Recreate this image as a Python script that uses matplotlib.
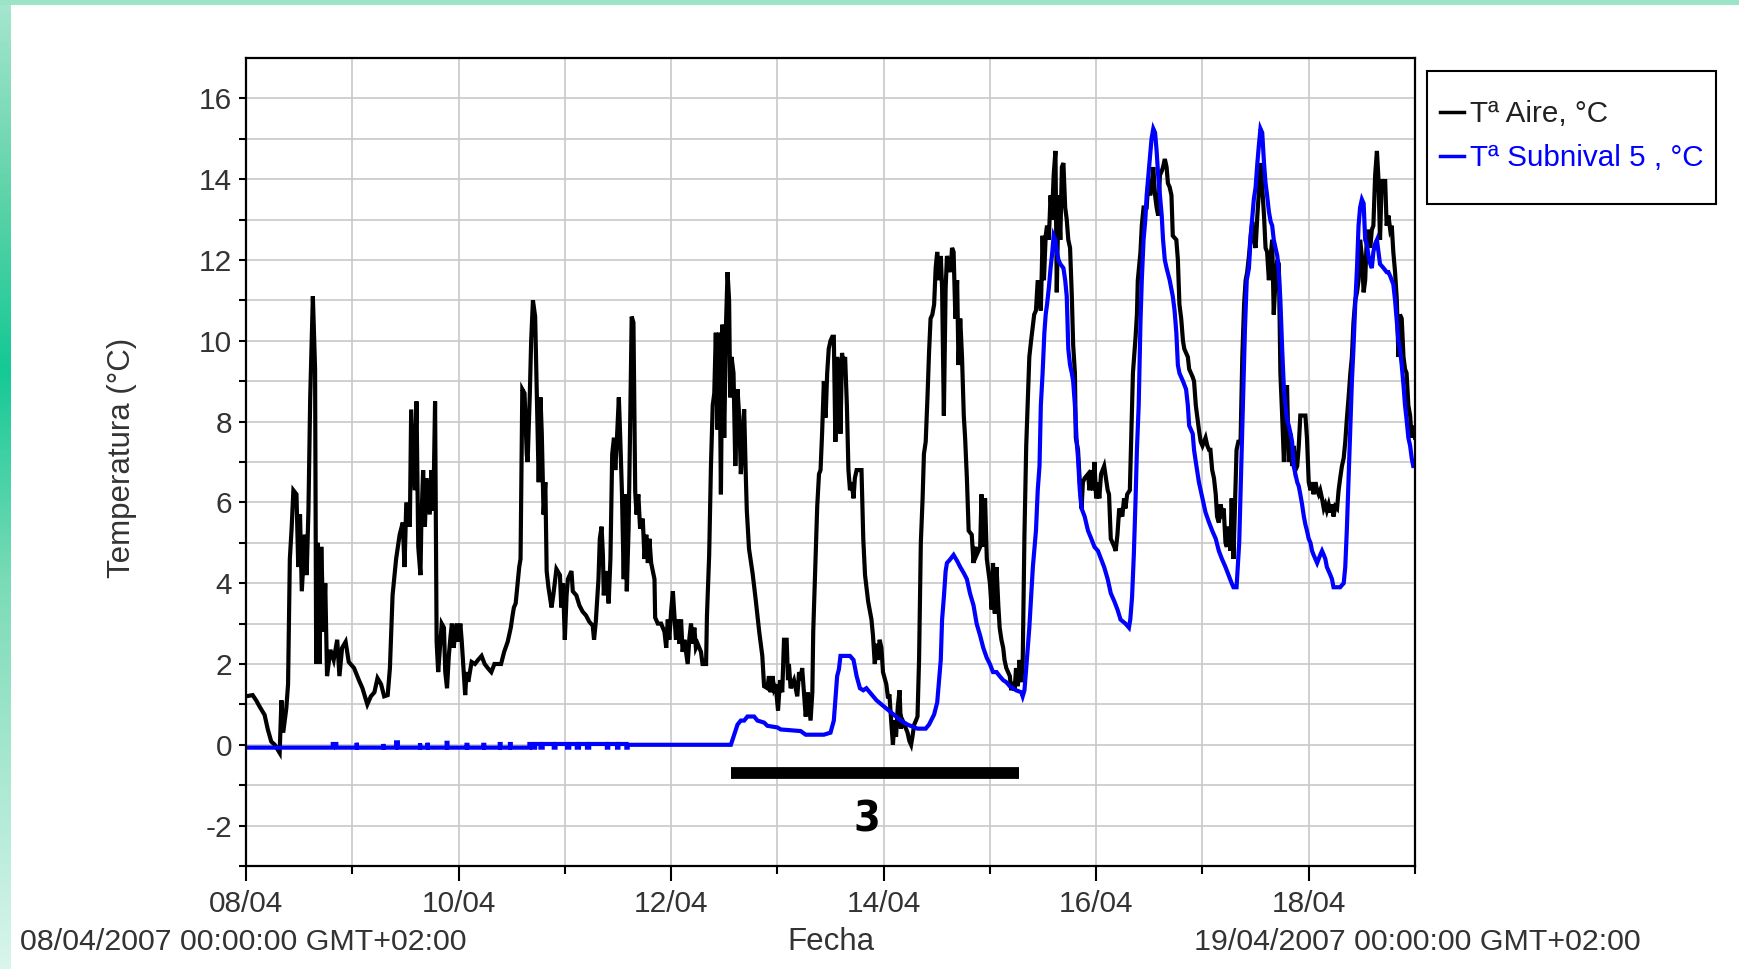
import matplotlib
matplotlib.use("Agg")
import matplotlib.pyplot as plt
import matplotlib.dates as mdates
import numpy as np
from datetime import datetime, timedelta
from matplotlib.patches import Rectangle
from matplotlib.colors import LinearSegmentedColormap

plt.rcParams['font.family'] = ['Liberation Sans', 'DejaVu Sans']
plt.rcParams['axes.unicode_minus'] = False

start = datetime(2007, 4, 8)
end = datetime(2007, 4, 19)

# (horas desde 08/04 00:00, temperatura °C)
aire = [
    (0, 1.2), (1.5, 1.23), (2.3, 1.1), (3.05, 0.95), (4.2, 0.74), (4.95, 0.37), (5.7, 0.08), (6.5, 0.0),
    (7.6, -0.2), (8.0, 1.1), (8.4, 0.3), (9.1, 0.9), (9.5, 1.5), (9.9, 4.6), (10.3, 5.35), (10.7, 6.3),
    (11.4, 6.2), (11.8, 4.4), (12.2, 5.7), (12.6, 3.8), (13.3, 5.2), (13.7, 4.2), (14.1, 5.8), (14.5, 8.6),
    (15.1, 11.1), (15.6, 9.3), (15.85, 2.0), (16.2, 5.0), (16.6, 2.0), (17.0, 4.9), (17.5, 2.8), (17.9, 4.0),
    (18.3, 1.7), (19.05, 2.35), (19.8, 2.1), (20.6, 2.6), (21.1, 1.7), (21.7, 2.4), (22.5, 2.55), (23.2, 2.05),
    (24.4, 1.9), (25.5, 1.6), (26.3, 1.4), (27.4, 1.0), (28.2, 1.2), (29.0, 1.3), (29.7, 1.65), (30.5, 1.5),
    (31.2, 1.2), (32.0, 1.23), (32.5, 1.9), (33.1, 3.7), (33.9, 4.6), (34.7, 5.2), (35.4, 5.5), (35.8, 4.4),
    (36.2, 6.0), (37.0, 5.4), (37.3, 8.3), (38.1, 6.3), (38.5, 8.5), (38.9, 4.9), (39.4, 4.2), (39.6, 5.5),
    (40.0, 6.8), (40.4, 5.4), (40.8, 6.6), (41.5, 5.7), (41.9, 6.8), (42.3, 5.8), (42.7, 8.5), (43.05, 2.55),
    (43.4, 1.8), (44.2, 3.0), (44.7, 2.9), (45.0, 1.8), (45.4, 1.4), (45.8, 2.2), (46.2, 2.7), (46.5, 3.0),
    (46.9, 2.4), (47.3, 2.8), (47.6, 3.0), (48.0, 2.55), (48.4, 3.0), (48.7, 2.6), (49.1, 1.9), (49.5, 1.23),
    (49.8, 1.8), (50.2, 1.56), (50.95, 2.05), (51.7, 2.0), (52.4, 2.1), (53.2, 2.2), (53.9, 2.0), (54.6, 1.9),
    (55.4, 1.8), (56.1, 2.0), (57.6, 2.0), (58.3, 2.3), (59.1, 2.55), (59.8, 2.9), (60.2, 3.2), (60.5, 3.4),
    (60.9, 3.5), (61.3, 3.95), (61.7, 4.4), (62.0, 4.6), (62.4, 8.8), (62.9, 8.7), (63.4, 7.2), (63.6, 7.0),
    (64.1, 8.7), (64.4, 10.0), (64.8, 11.0), (65.3, 10.6), (65.7, 8.6), (66.1, 6.5), (66.5, 8.6), (66.8, 7.7),
    (67.2, 5.7), (67.6, 6.5), (67.9, 4.3), (68.3, 3.9), (69.0, 3.4), (69.4, 3.7), (70.1, 4.35), (70.9, 4.2),
    (71.2, 3.4), (71.6, 4.0), (72.0, 2.6), (72.4, 3.7), (72.7, 4.1), (73.5, 4.3), (73.8, 3.8), (74.6, 3.7),
    (75.3, 3.45), (76.0, 3.3), (76.8, 3.2), (77.5, 3.05), (78.3, 2.95), (78.6, 2.6), (79.0, 3.05), (79.6, 4.1),
    (79.9, 5.1), (80.3, 5.4), (80.6, 4.7), (80.8, 3.7), (81.2, 4.3), (81.6, 3.95), (81.9, 3.5), (82.3, 4.6),
    (82.7, 7.2), (83.1, 7.6), (83.4, 6.8), (83.8, 7.65), (84.2, 8.6), (84.5, 7.65), (84.9, 6.25), (85.3, 4.1),
    (85.6, 6.2), (86.0, 3.8), (86.4, 5.35), (86.7, 7.5), (87.1, 10.6), (87.5, 10.45), (87.9, 6.25), (88.2, 5.7),
    (88.6, 6.2), (89.0, 5.35), (89.6, 5.6), (90.0, 4.6), (90.4, 5.2), (90.75, 4.5), (91.1, 5.1), (91.5, 4.5),
    (92.25, 4.1), (92.4, 3.15), (93.0, 3.0), (93.75, 3.0), (94.5, 2.8), (94.9, 2.4), (95.25, 3.1), (95.6, 2.6),
    (96.0, 3.3), (96.4, 3.8), (96.75, 3.2), (97.1, 2.6), (97.5, 3.1), (97.9, 2.5), (98.25, 3.1), (98.6, 2.3),
    (99.0, 2.6), (99.75, 2.0), (100.1, 2.6), (100.5, 3.0), (100.9, 2.5), (101.25, 2.9), (101.6, 2.4), (102.0, 2.5),
    (102.75, 2.3), (103.1, 2.0), (103.9, 2.0), (104.1, 3.2), (104.6, 4.7), (105.0, 6.9), (105.4, 8.4), (105.75, 8.7),
    (106.1, 10.2), (106.5, 7.8), (106.9, 10.2), (107.25, 6.2), (107.6, 10.4), (108.0, 7.6), (108.4, 10.4),
    (108.75, 11.7), (109.1, 11.0), (109.35, 8.6), (109.65, 9.6), (110.1, 9.2), (110.5, 6.9), (111.0, 8.8),
    (111.4, 8.1), (111.75, 6.7), (112.1, 7.4), (112.5, 8.3), (112.9, 6.55), (113.1, 5.8), (113.6, 4.85),
    (114.4, 4.25), (115.1, 3.6), (115.9, 2.8), (116.6, 2.2), (117.0, 1.45), (117.75, 1.4), (118.1, 1.7),
    (118.5, 1.3), (118.9, 1.7), (119.25, 1.4), (119.6, 1.5), (120.15, 0.85), (120.6, 1.6), (121.1, 1.3),
    (121.5, 2.6), (122.1, 2.6), (122.4, 1.6), (122.6, 2.0), (123.0, 1.4), (123.75, 1.6), (124.5, 1.2),
    (124.9, 1.8), (125.25, 1.6), (125.6, 1.9), (126.0, 1.3), (126.4, 0.7), (126.9, 1.3), (127.5, 0.6),
    (127.9, 1.3), (128.1, 2.8), (128.6, 4.5), (129.0, 5.9), (129.4, 6.7), (129.75, 6.8), (130.1, 7.7),
    (130.5, 9.0), (130.9, 8.1), (131.25, 9.2), (131.6, 9.8), (132.0, 10.0), (132.4, 10.1), (132.75, 10.1),
    (133.1, 7.5), (133.5, 9.6), (133.9, 9.3), (134.25, 7.7), (134.6, 9.7), (134.9, 9.4), (135.3, 9.6),
    (135.7, 8.4), (136.05, 6.8), (136.4, 6.3), (136.8, 6.5), (137.2, 6.1), (137.5, 6.6), (137.9, 6.8),
    (138.65, 6.8), (139.0, 6.8), (139.4, 5.1), (139.8, 4.2), (140.5, 3.55), (141.25, 3.1), (141.6, 2.7),
    (142.0, 2.0), (142.4, 2.5), (142.7, 2.1), (143.1, 2.6), (143.5, 2.4), (143.85, 1.8), (144.6, 1.5),
    (145.0, 1.15), (145.3, 1.25), (145.7, 0.6), (146.1, 0.0), (146.45, 0.6), (146.8, 0.2), (147.2, 0.95),
    (147.6, 1.35), (147.9, 0.4), (148.3, 0.6), (148.7, 0.5), (149.4, 0.3), (149.8, 0.1), (150.2, 0.0),
    (150.5, 0.2), (150.9, 0.5), (151.3, 0.6), (151.65, 0.7), (152.0, 2.1), (152.4, 5.0), (152.8, 6.1),
    (153.1, 7.2), (153.5, 7.5), (153.9, 8.6), (154.25, 9.7), (154.6, 10.55), (155.0, 10.65), (155.4, 10.9),
    (155.75, 11.8), (156.1, 12.2), (156.5, 11.5), (156.9, 12.1), (157.2, 11.3), (157.6, 8.15), (158.0, 11.3),
    (158.3, 12.1), (159.1, 11.7), (159.45, 12.3), (159.8, 12.2), (160.2, 10.55), (160.6, 11.5), (160.9, 9.4),
    (161.3, 10.55), (161.7, 9.6), (162.1, 8.15), (162.4, 7.6), (162.8, 6.6), (163.2, 5.3), (163.9, 5.2),
    (164.3, 4.5), (164.7, 4.9), (165.0, 4.7), (165.8, 4.9), (166.1, 6.2), (166.5, 4.9), (166.9, 6.1),
    (167.3, 4.6), (168.0, 4.0), (168.4, 3.35), (168.7, 4.5), (169.1, 3.25), (169.5, 4.4), (169.9, 3.45),
    (170.2, 2.9), (170.6, 2.6), (171.0, 2.4), (171.3, 2.1), (171.7, 1.9), (172.5, 1.7), (172.8, 1.35),
    (173.2, 1.55), (173.6, 1.35), (173.9, 1.9), (174.3, 1.45), (174.7, 2.1), (175.1, 1.55), (175.4, 2.0),
    (175.8, 5.2), (176.2, 7.4), (176.9, 9.6), (177.3, 10.0), (178.0, 10.65), (178.4, 10.75), (178.8, 11.5),
    (179.5, 10.75), (179.9, 12.6), (180.2, 11.5), (180.6, 12.6), (180.9, 12.85), (181.3, 12.5), (181.7, 13.6),
    (182.0, 13.0), (182.4, 14.1), (182.8, 14.7), (183.1, 11.2), (183.5, 13.6), (183.9, 12.5), (184.25, 14.3),
    (184.6, 14.4), (185.0, 13.3), (185.35, 13.0), (185.7, 12.5), (186.1, 12.3), (186.5, 11.1), (186.8, 9.9),
    (187.2, 9.2), (187.4, 7.6), (187.9, 7.3), (188.3, 6.5), (188.7, 5.85), (189.0, 6.5), (189.4, 6.6),
    (190.15, 6.7), (190.5, 6.3), (190.9, 6.8), (191.3, 6.3), (191.6, 7.0), (192.0, 6.1), (192.4, 6.5),
    (192.7, 6.1), (193.1, 6.7), (193.8, 6.9), (194.2, 6.6), (194.6, 6.3), (194.9, 6.2), (195.3, 5.1),
    (196.1, 4.9), (196.4, 4.8), (196.8, 5.2), (197.2, 5.85), (197.9, 5.65), (198.3, 6.1), (198.6, 5.85),
    (199.0, 6.2), (199.6, 6.3), (199.9, 7.5), (200.3, 9.2), (200.9, 10.1), (201.2, 10.65), (201.4, 11.5),
    (202.0, 12.2), (202.3, 12.85), (202.7, 13.3), (203.4, 13.3), (203.8, 14.0), (204.2, 13.6), (204.5, 13.8),
    (204.9, 14.3), (205.3, 13.6), (205.65, 13.3), (206.0, 13.1), (206.4, 14.1), (206.8, 14.2), (207.1, 14.3),
    (207.5, 14.5), (207.9, 14.3), (208.2, 13.9), (208.6, 13.8), (209.0, 13.6), (209.3, 12.6), (210.1, 12.5),
    (210.45, 12.0), (210.8, 10.9), (211.2, 10.55), (211.6, 10.0), (211.9, 9.8), (212.3, 9.7), (212.7, 9.6),
    (213.0, 9.3), (213.8, 9.1), (214.1, 9.0), (214.5, 8.4), (215.2, 7.8), (215.6, 7.5), (216.0, 7.4),
    (216.7, 7.6), (217.1, 7.4), (217.5, 7.3), (217.8, 7.3), (218.2, 6.8), (218.6, 6.6), (219.0, 6.2),
    (219.3, 5.65), (219.7, 5.5), (220.1, 5.95), (220.4, 5.75), (220.8, 5.85), (221.2, 5.0), (221.5, 4.9),
    (221.9, 5.4), (222.3, 4.8), (222.6, 6.1), (223.0, 4.6), (223.4, 6.1), (223.7, 7.3), (224.1, 7.5),
    (224.6, 7.5), (225.0, 9.6), (225.4, 10.9), (225.75, 11.5), (226.1, 11.7), (226.5, 12.1), (226.9, 12.6),
    (227.25, 12.95), (227.6, 12.5), (228.0, 12.3), (228.4, 13.1), (228.75, 13.7), (229.1, 14.4), (229.5, 13.8),
    (229.9, 13.1), (230.25, 12.3), (230.6, 12.2), (231.0, 11.5), (231.4, 12.1), (231.75, 12.5), (232.1, 10.65),
    (232.5, 11.5), (232.9, 12.0), (233.25, 11.9), (233.6, 9.2), (234.0, 8.15), (234.4, 7.0), (234.75, 8.4),
    (235.1, 8.9), (235.5, 7.0), (235.9, 7.7), (236.25, 6.9), (236.6, 7.4), (237.0, 6.8), (237.4, 6.9),
    (237.75, 7.4), (238.1, 8.15), (238.9, 8.15), (239.25, 8.15), (239.6, 7.6), (240.0, 6.5), (240.4, 6.3),
    (240.75, 6.5), (241.1, 6.2), (241.5, 6.5), (241.9, 6.3), (242.25, 6.2), (242.6, 6.3), (243.0, 6.1),
    (243.4, 5.85), (243.75, 5.95), (244.1, 5.8), (244.5, 5.95), (244.9, 5.75), (245.25, 5.95), (245.6, 5.65),
    (246.0, 5.9), (246.4, 5.85), (246.75, 6.3), (247.1, 6.6), (247.5, 6.9), (247.9, 7.1), (248.25, 7.5),
    (248.6, 8.05), (249.0, 8.6), (249.4, 9.2), (249.75, 9.6), (250.1, 10.45), (250.5, 11.0), (250.9, 11.2),
    (251.25, 11.5), (251.6, 12.5), (252.0, 12.1), (252.4, 11.2), (252.75, 11.5), (253.1, 12.5), (253.5, 12.75),
    (253.9, 12.3), (254.25, 12.75), (254.6, 12.85), (255.0, 14.1), (255.4, 14.7), (255.75, 14.0), (256.1, 12.5),
    (256.5, 14.0), (256.9, 13.7), (257.25, 14.0), (257.6, 12.85), (258.0, 13.1), (258.4, 12.75), (258.75, 12.85),
    (259.1, 12.2), (259.5, 11.7), (259.9, 11.0), (260.25, 9.6), (260.6, 10.65), (261.0, 10.55), (261.4, 9.6),
    (261.75, 9.3), (262.1, 9.2), (262.5, 8.4), (262.9, 8.15), (263.25, 7.6), (263.6, 7.9), (264.0, 7.6),
]

subnival = [
    (0, -0.07), (19.6, -0.07), (19.6, 0.02), (20.4, 0.02), (20.4, -0.07), (25.0, -0.07), (25.0, 0.05),
    (25.1, -0.07), (31.0, -0.07), (31.0, 0.02), (31.1, -0.07), (33.9, -0.07), (33.9, 0.06), (34.3, 0.06),
    (34.3, -0.07), (39.3, -0.07), (39.3, 0.04), (39.4, -0.07), (41.0, -0.07), (41.0, 0.05), (41.1, -0.07),
    (45.3, -0.07), (45.3, 0.05), (45.5, 0.05), (45.5, -0.07), (49.8, -0.07), (49.8, 0.0), (50.0, 0.0),
    (50.0, -0.07), (53.6, -0.07), (53.6, 0.0), (53.8, 0.0), (53.8, -0.07), (57.3, -0.07), (57.3, 0.02),
    (57.5, 0.02), (57.5, -0.07), (59.6, -0.07), (59.6, 0.02), (59.8, 0.02), (59.8, -0.07), (64.0, -0.07),
    (64.0, 0.02), (64.6, 0.02), (64.6, -0.07), (65.3, -0.07), (65.3, 0.02), (66.5, 0.02), (66.5, -0.07),
    (67.0, -0.07), (67.0, 0.02), (69.5, 0.02), (69.5, -0.07), (69.9, -0.07), (69.9, 0.02), (72.5, 0.02),
    (72.5, -0.07), (73.0, -0.07), (73.0, 0.02), (74.7, 0.02), (74.7, -0.07), (75.2, -0.07), (75.2, 0.02),
    (77.0, 0.02), (77.0, -0.07), (77.5, -0.07), (77.5, 0.02), (81.5, 0.02), (81.5, -0.07), (81.8, -0.07),
    (81.8, 0.02), (83.8, 0.02), (83.8, -0.07), (84.1, -0.07), (84.1, 0.02), (85.9, 0.02), (85.9, -0.07),
    (86.2, -0.07), (86.2, 0.0), (109.5, 0.0), (110.25, 0.25), (111.0, 0.5), (111.75, 0.6),
    (112.5, 0.6), (113.25, 0.7), (114.75, 0.7), (115.5, 0.6), (117.0, 0.55), (117.75, 0.47), (120.0, 0.43),
    (120.75, 0.38), (125.25, 0.34), (126.4, 0.25), (130.5, 0.25), (132.0, 0.3), (132.75, 0.6), (133.1, 1.1),
    (133.5, 1.7), (133.9, 1.87), (134.25, 2.2), (135.3, 2.2), (136.4, 2.2), (137.2, 2.1), (137.9, 1.7),
    (138.65, 1.4), (139.4, 1.35), (140.1, 1.4), (141.25, 1.25), (142.4, 1.1), (143.5, 1.0), (144.6, 0.9),
    (145.7, 0.8), (146.8, 0.7), (147.9, 0.6), (149.4, 0.5), (150.5, 0.45), (151.65, 0.4), (153.5, 0.4),
    (154.25, 0.5), (155.4, 0.75), (156.1, 1.05), (156.9, 2.1), (157.2, 3.1), (157.6, 3.65), (158.0, 4.3),
    (158.3, 4.5), (159.1, 4.6), (159.8, 4.7), (160.6, 4.55), (161.3, 4.4), (162.1, 4.25), (162.8, 4.1),
    (163.5, 3.75), (164.3, 3.45), (165.0, 3.0), (165.8, 2.7), (166.5, 2.4), (167.3, 2.15), (168.0, 2.0),
    (168.7, 1.8), (169.5, 1.8), (170.2, 1.7), (171.0, 1.6), (171.7, 1.55), (172.5, 1.45), (173.2, 1.4),
    (173.9, 1.35), (175.1, 1.3), (175.4, 1.2), (175.8, 1.35), (176.2, 1.9), (176.9, 2.9), (177.3, 3.65),
    (177.7, 4.4), (178.4, 5.3), (178.8, 6.3), (179.2, 6.9), (179.5, 8.4), (179.9, 9.2), (180.3, 10.2),
    (180.6, 10.65), (180.9, 10.9), (181.3, 11.3), (181.7, 11.8), (182.0, 12.1), (182.4, 12.6), (182.8, 12.5),
    (183.1, 12.2), (183.5, 12.0), (183.9, 11.9), (184.6, 11.8), (185.0, 11.5), (185.35, 11.1), (185.7, 9.8),
    (186.1, 9.4), (186.5, 9.2), (186.8, 9.0), (187.2, 8.4), (187.6, 7.5), (187.9, 7.1), (188.3, 6.3),
    (188.7, 5.85), (189.4, 5.65), (190.15, 5.3), (190.9, 5.1), (191.6, 4.9), (192.4, 4.8), (193.1, 4.6),
    (193.8, 4.4), (194.6, 4.1), (195.3, 3.75), (196.1, 3.55), (196.8, 3.35), (197.5, 3.1), (198.6, 3.0),
    (199.4, 2.9), (199.7, 3.1), (200.1, 3.65), (200.5, 4.7), (200.9, 6.1), (201.2, 7.3), (201.6, 8.4),
    (202.0, 10.45), (202.3, 11.5), (202.7, 12.5), (203.1, 13.0), (203.4, 13.6), (203.8, 14.1), (204.2, 14.6),
    (204.5, 15.0), (204.9, 15.25), (205.3, 15.15), (205.65, 14.7), (206.0, 14.1), (206.4, 13.6), (206.8, 13.1),
    (207.1, 12.5), (207.5, 12.0), (207.9, 11.8), (208.6, 11.5), (209.3, 11.1), (209.7, 10.75), (210.1, 10.2),
    (210.45, 9.4), (210.8, 9.2), (211.6, 9.0), (212.3, 8.8), (212.7, 8.4), (213.0, 7.9), (213.8, 7.7),
    (214.1, 7.3), (214.5, 7.0), (215.2, 6.5), (216.0, 6.1), (216.7, 5.75), (217.5, 5.5), (218.2, 5.3),
    (219.0, 5.1), (219.7, 4.8), (220.4, 4.6), (221.2, 4.4), (221.9, 4.2), (222.6, 4.0), (223.0, 3.9),
    (223.7, 3.9), (224.3, 5.0), (224.8, 7.0), (225.2, 8.7), (225.6, 10.3), (226.0, 11.5), (226.5, 11.8),
    (226.9, 12.6), (227.6, 13.5), (228.0, 13.8), (228.4, 14.4), (228.75, 14.85), (229.1, 15.25), (229.5, 15.15),
    (229.9, 14.4), (230.25, 13.9), (230.6, 13.6), (231.0, 13.2), (231.4, 12.95), (231.75, 12.85), (232.1, 12.5),
    (232.5, 12.3), (232.9, 12.1), (233.25, 11.7), (233.6, 11.0), (234.0, 9.8), (234.4, 8.8), (234.75, 8.4),
    (235.1, 8.05), (235.5, 7.9), (235.9, 7.7), (236.25, 7.5), (236.6, 6.9), (237.0, 6.7), (237.4, 6.5),
    (237.75, 6.4), (238.1, 6.2), (238.5, 5.95), (238.9, 5.65), (239.25, 5.45), (239.6, 5.3), (240.0, 5.1),
    (240.4, 5.0), (240.75, 4.8), (241.1, 4.7), (241.5, 4.6), (241.9, 4.5), (242.25, 4.6), (242.6, 4.7),
    (243.0, 4.8), (243.4, 4.7), (243.75, 4.6), (244.1, 4.4), (244.5, 4.3), (244.9, 4.2), (245.25, 4.1),
    (245.6, 3.9), (246.4, 3.9), (247.1, 3.9), (247.9, 4.0), (248.25, 4.4), (248.6, 5.3), (249.0, 6.6),
    (249.4, 7.9), (249.75, 9.0), (250.1, 9.8), (250.5, 10.9), (250.9, 11.8), (251.25, 12.85), (251.6, 13.3),
    (252.0, 13.5), (252.4, 13.4), (252.75, 12.5), (253.1, 12.4), (253.5, 12.1), (253.9, 11.9), (254.25, 11.8),
    (254.6, 12.2), (255.0, 12.4), (255.4, 12.5), (255.75, 12.2), (256.1, 11.9), (256.9, 11.8), (257.6, 11.7),
    (258.0, 11.7), (258.4, 11.6), (258.75, 11.5), (259.1, 11.4), (259.5, 11.0), (259.9, 10.45), (260.25, 10.0),
    (260.6, 9.8), (261.0, 9.4), (261.4, 8.9), (261.75, 8.4), (262.1, 8.05), (262.5, 7.6), (262.9, 7.4),
    (263.25, 7.1), (263.6, 6.9), (264.0, 6.9),
]

series_labels = ['Tª Aire, °C', 'Tª Subnival 5 , °C']
series_colors = ['black', '#0000ff']

# periodo marcado (horas) y su etiqueta
periodo_h = (109.5, 174.5)
periodo_nivel = -0.7
periodo_label = '3'
periodo_label_pos = (140.2, -1.85)


def to_dates(pairs):
    return [start + timedelta(hours=h) for h, _ in pairs], [t for _, t in pairs]


W, H = 1739, 969
fig = plt.figure(figsize=(W / 100, H / 100), dpi=100)
fig.patch.set_facecolor('white')

# borde verde decorativo
edge = fig.add_axes([0, 0, 11 / W, 1])
edge.axis('off')
cmap = LinearSegmentedColormap.from_list('edge', [(0, '#a6e6cf'), (0.2, '#5fd3a9'), (0.38, '#14c995'),
                                                  (0.6, '#7adbb7'), (1, '#d9f5ec')])
edge.imshow(np.linspace(0, 1, 256).reshape(-1, 1), aspect='auto', cmap=cmap)
fig.add_artist(Rectangle((0, 1 - 5 / H), 1, 5 / H, transform=fig.transFigure, color='#9ce4c8', lw=0))

ax = fig.add_axes([246 / W, 1 - 866 / H, 1169 / W, 808 / H])

for pairs, lab, col in zip([aire, subnival], series_labels, series_colors):
    xs, ys = to_dates(pairs)
    ax.plot(xs, ys, color=col, lw=3.0, label=lab, solid_joinstyle='miter')

ax.set_xlim(start, end)
ax.set_ylim(-3, 17)
ax.yaxis.set_major_locator(plt.FixedLocator(range(-2, 17, 2)))
ax.yaxis.set_minor_locator(plt.FixedLocator(range(-3, 16, 2)))
ax.xaxis.set_major_locator(mdates.DayLocator(bymonthday=range(8, 20, 2)))
ax.xaxis.set_minor_locator(mdates.DayLocator())
ax.xaxis.set_major_formatter(mdates.DateFormatter('%d/%m'))

ax.grid(which='both', color='#c8c8c8', lw=1.2)
ax.set_axisbelow(True)
for s in ax.spines.values():
    s.set_linewidth(1.6)

ax.tick_params(axis='both', which='both', direction='out', labelsize=21.5, labelcolor='#333333', width=1.5)
ax.tick_params(axis='x', which='major', length=11, pad=6)
ax.tick_params(axis='x', which='minor', length=5.5)
ax.tick_params(axis='y', which='both', length=5, pad=5)

# barra del periodo
p0, p1 = [start + timedelta(hours=h) for h in periodo_h]
ax.plot([p0, p1], [periodo_nivel, periodo_nivel], color='black', lw=8.5, solid_capstyle='butt')
ax.text(start + timedelta(hours=periodo_label_pos[0]), periodo_label_pos[1], periodo_label,
        ha='center', va='center', fontsize=31, fontweight='bold', fontstretch='condensed',
        family=['Liberation Sans Narrow', 'DejaVu Sans'])

ax.set_ylabel('Temperatura (°C)', fontsize=22.5, color='#333333')
ax.yaxis.set_label_coords((122 - 246) / 1169, 0.505)
ax.yaxis.label.set_va('center')
ax.set_xlabel('Fecha', fontsize=22.5, color='#333333')
ax.xaxis.set_label_coords(0.5, (866 - 942) / 808)
ax.xaxis.label.set_va('center')

fmt = '%d/%m/%Y %H:%M:%S GMT+02:00'
fig.text(20 / W, 1 - 942 / H, start.strftime(fmt), ha='left', va='center', fontsize=21.9, color='#333333')
fig.text(1641 / W, 1 - 942 / H, end.strftime(fmt), ha='right', va='center', fontsize=21.9, color='#333333')

# leyenda
leg = ax.legend(loc='upper left', bbox_to_anchor=(1440 / W, 1 - 100 / H), bbox_transform=fig.transFigure,
                frameon=False, fontsize=21.3, handlelength=0.8, handletextpad=0.2, labelspacing=0.55,
                borderpad=0, borderaxespad=0)
for t, c in zip(leg.get_texts(), ['#222222', '#0000ff']):
    t.set_color(c)
for l in leg.get_lines():
    l.set_linewidth(2.5)
fig.add_artist(Rectangle((1427 / W, 1 - 204 / H), 289 / W, 133 / H, transform=fig.transFigure,
                         fill=False, ec='black', lw=1.5))

fig.savefig('out.png', dpi=100)
